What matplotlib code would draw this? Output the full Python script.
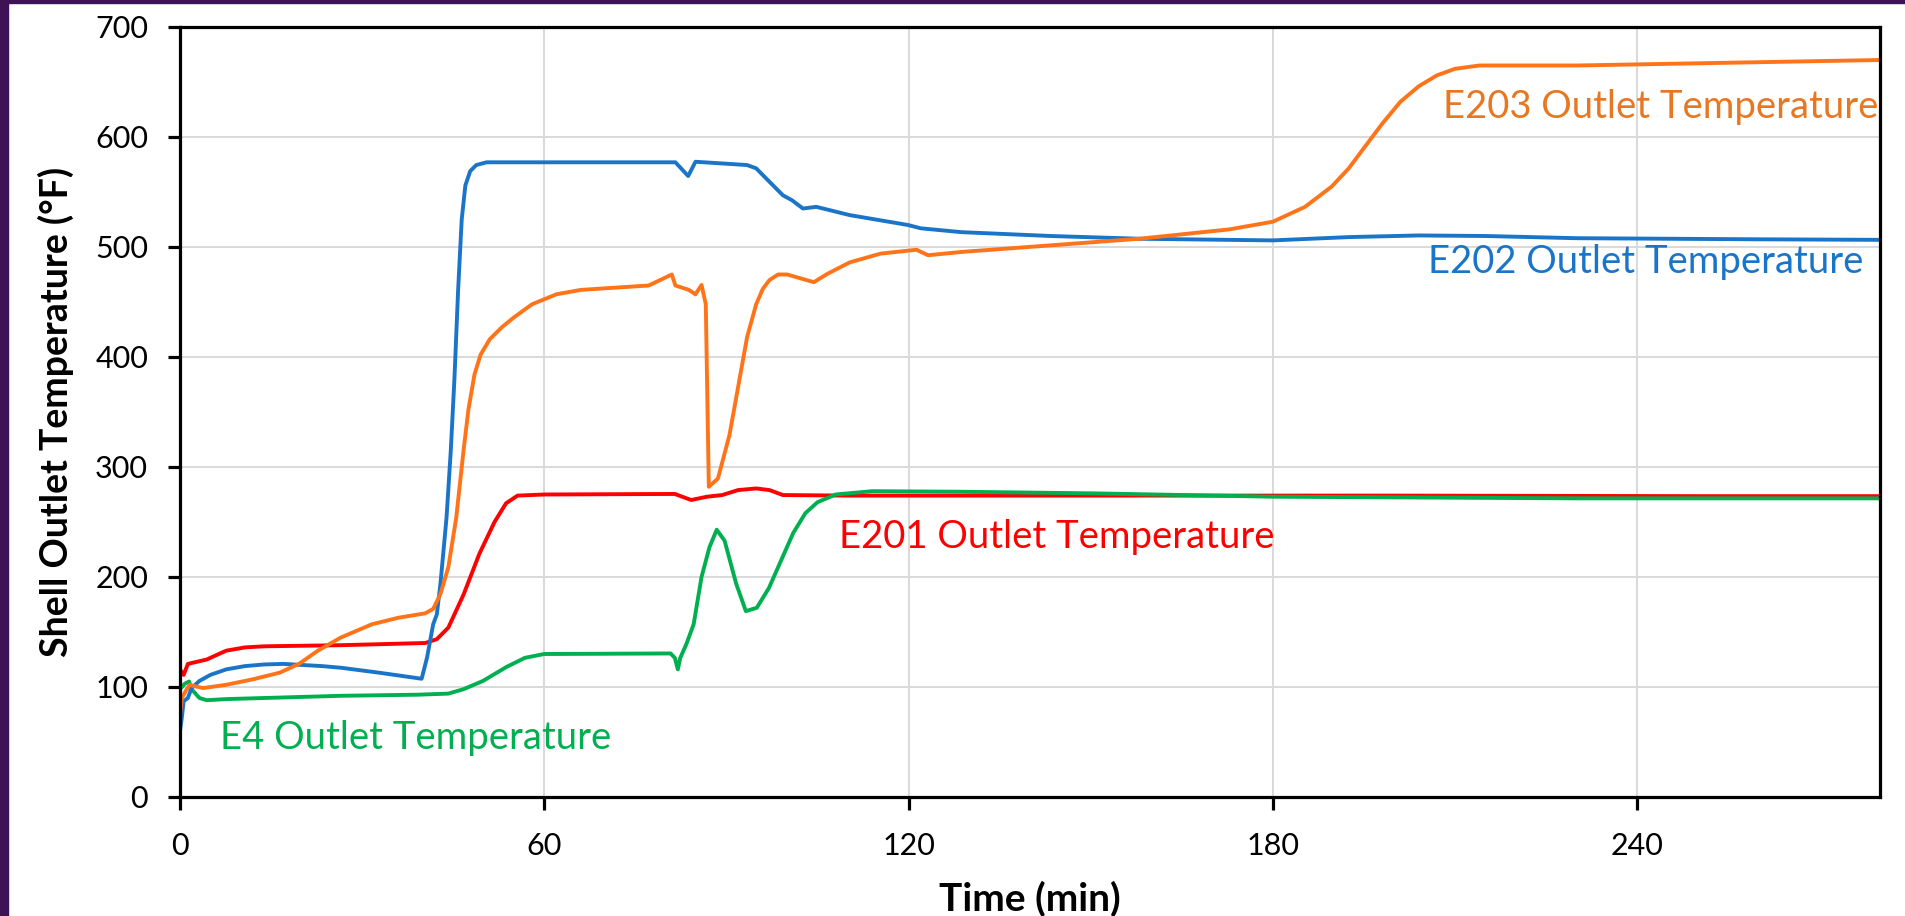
import matplotlib
matplotlib.use('Agg')
import matplotlib.pyplot as plt

plt.rcParams['font.family'] = ['Lato', 'DejaVu Sans']

# E201 outlet (red)
e201_t = [0, 0.6, 1.3, 4.4, 7.6, 10.7, 13.9, 26.5, 40.4, 42.3, 44.2, 46.7, 49.3, 51.8, 53.7, 55.6,
          60, 81.5, 82.7, 84.2, 86.8, 89.3, 91.9, 94.9, 97.1, 99.3, 110, 150, 200, 250, 280]
e201_T = [116, 111, 121, 125, 133, 136, 137, 138, 140, 143.5, 154, 184, 221, 250, 267, 274,
          275, 275.5, 273, 270, 273, 274.5, 279, 280.5, 279, 274.5, 274, 274, 274, 273.5, 273.5]

# E202 outlet (blue)
e202_t = [0, 0.3, 0.6, 1.3, 1.9, 3.2, 5, 7.6, 10.7, 13.9, 17, 23.4, 26.5, 32.8, 39.8, 40.7, 41.7,
          42.3, 42.9, 43.9, 44.6, 45.2, 45.8, 46.4, 47.0, 47.8, 48.8, 50.5, 77.2, 81.6, 83.7, 84.9,
          93.4, 94.9, 99.3, 100.8, 102.6, 104.8, 110.3, 119.9, 122, 128.7, 143.4, 158, 180, 192.5,
          204, 215, 230, 260, 280]
e202_T = [60, 72, 87, 90, 99, 105.5, 111, 116, 119, 120.5, 121, 119, 117.5, 113, 107.5, 127, 157,
          166, 194, 254, 315, 380, 460, 525, 556, 569, 574.5, 577, 577, 577, 564.5, 577.5,
          574.5, 571.5, 547, 542.5, 535, 536.5, 529, 520, 517, 513.5, 510, 507.5, 506, 509,
          510.5, 510, 508, 507, 506.5]

# E203 outlet (orange)
e203_t = [0, 0.3, 0.9, 1.6, 2.2, 3.8, 7.6, 12, 16.4, 19.6, 22.7, 26.5, 31.6, 36, 40.4, 41.7, 42.9,
          44.2, 45.5, 46.7, 47.5, 48.5, 49.5, 51, 53, 55, 58, 62, 66, 77.2, 81.0, 81.6, 83.8, 84.9,
          85.9, 86.6, 87.1, 88.6, 90.5, 91.9, 93.4, 94.9, 96.0, 97.1, 98.5, 100, 104.4, 106.6,
          110.3, 115.4, 121.3, 123.2, 128.7, 143.4, 158, 172.8, 180, 185.3, 189.7, 192.5, 195,
          198, 201, 204, 207, 210, 214, 230, 250, 280]
e203_T = [75, 90, 96, 102, 101, 99, 102, 107, 113, 121, 133, 145, 157, 163, 167, 171, 184.5,
          209, 254, 315, 352, 384, 402, 416, 427, 436, 448, 457, 461, 465, 475, 465, 461, 457,
          465.5, 448, 282, 289.5, 329, 372, 418, 448, 462, 470, 475, 475, 468, 475.5,
          486, 494, 497.5, 492.5, 495.5, 501.5, 507.5, 516, 523, 536.5, 555, 571.5, 590,
          612, 632, 646, 656, 662, 665, 665, 667, 670]

# E4 outlet (green)
e4_t = [0, 0.8, 1.5, 1.9, 3.2, 4.4, 7.6, 13.9, 26.5, 39.2, 44.2, 46.7, 49.9, 53.7, 56.8, 60, 80.8,
        81.5, 82, 82.4, 83.4, 84.6, 85.9, 87.2, 88.4, 89.7, 91.6, 93.2, 95, 97, 99, 101, 103, 105,
        108, 114, 128.7, 150.7, 180, 230, 280]
e4_T = [98, 103, 105, 98, 90, 88, 89, 90, 92, 93, 94, 98, 105.5, 118, 126.5, 130, 130.5,
        126.5, 116, 126.5, 139, 157, 200, 227, 243, 233, 194, 169, 172, 190, 215, 240, 258, 268,
        275, 278, 277.5, 276, 273, 271.5, 271.5]

xticks = [0, 60, 120, 180, 240]
yticks = [0, 100, 200, 300, 400, 500, 600, 700]

fig = plt.figure(figsize=(19.06, 9.16), dpi=100)
fig.patches.append(plt.Rectangle((0, 0), 8 / 1906, 1, transform=fig.transFigure,
                                 color='#3f1257', zorder=0))
fig.patches.append(plt.Rectangle((0, 1 - 3 / 916), 1, 3 / 916, transform=fig.transFigure,
                                 color='#3f1257', zorder=0))
ax = fig.add_axes([180 / 1906, 1 - 797 / 916, 1700 / 1906, 770 / 916])

lw = 2.8
ax.plot(e201_t, e201_T, color='#ff0000', lw=lw)
ax.plot(e4_t, e4_T, color='#00b050', lw=lw)
ax.plot(e202_t, e202_T, color='#1a75c9', lw=lw)
ax.plot(e203_t, e203_T, color='#ff7419', lw=lw)

ax.set_xlim(0, 280)
ax.set_ylim(0, 700)
ax.set_xticks(xticks)
ax.set_yticks(yticks)
ax.grid(True, color='#d9d9d9', lw=1.4)
ax.set_axisbelow(True)
for s in ax.spines.values():
    s.set_linewidth(2.3)
ax.tick_params(length=9, width=2.3, pad=14, labelsize=22, colors='black')
ax.tick_params(axis='x', pad=16)

ax.set_xlabel('Time (min)', fontsize=28, fontweight='bold', labelpad=15)
ax.set_ylabel('Shell Outlet Temperature (°F)', fontsize=27, fontweight='bold', labelpad=15)

ax.text(279.8, 627, 'E203 Outlet Temperature', color='#e87722', fontsize=27.5, ha='right', va='center')
ax.text(277.2, 486, 'E202 Outlet Temperature', color='#1a75c9', fontsize=27.5, ha='right', va='center')
ax.text(108.5, 236, 'E201 Outlet Temperature', color='#ff0000', fontsize=27.5, ha='left', va='center')
ax.text(6.6, 54, 'E4 Outlet Temperature', color='#00b050', fontsize=27.5, ha='left', va='center')

fig.savefig('out.png', dpi=100)
